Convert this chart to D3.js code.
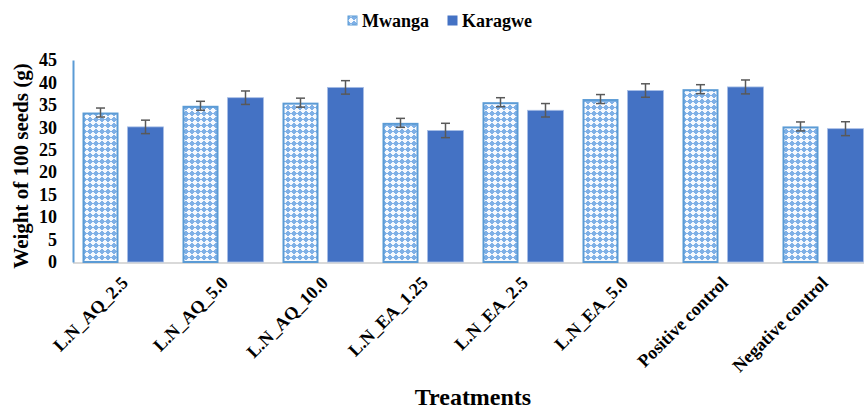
<!DOCTYPE html>
<html>
<head>
<meta charset="utf-8">
<script src="https://cdn.jsdelivr.net/npm/d3@7"></script>
<style>
html,body{margin:0;padding:0;background:#fff;}
svg{display:block;}
text{font-family:"Liberation Serif","Times New Roman",serif;font-weight:bold;fill:#000;}
</style>
</head>
<body>
<svg id="chart" width="864" height="410"></svg>
<script>
const categories = ["L.N_AQ_2.5","L.N_AQ_5.0","L.N_AQ_10.0","L.N_EA_1.25","L.N_EA_2.5","L.N_EA_5.0","Positive control","Negative control"];
const seriesNames = ["Mwanga","Karagwe"];
const mwanga = [33.3,34.8,35.5,31.0,35.6,36.3,38.5,30.2];
const mwangaErr = [1.0,1.0,1.0,1.0,1.0,1.0,1.0,1.0];
const karagwe = [30.1,36.6,38.9,29.3,33.8,38.2,39.0,29.7];
const karagweErr = [1.5,1.5,1.5,1.6,1.5,1.5,1.55,1.55];
const yTicks = [0,5,10,15,20,25,30,35,40,45];

const svg = d3.select("#chart");
const plotLeft = 73, plotRight = 873, plotTop = 60, plotBottom = 262;
const FONT = "'Liberation Serif','Times New Roman',serif";

const x = d3.scaleBand().domain(categories).range([plotLeft, plotRight]).paddingInner(0).paddingOuter(0);
const y = d3.scaleLinear().domain([0,45]).range([plotBottom, plotTop]);

const defs = svg.append("defs");
const pat = defs.append("pattern").attr("id","hatch").attr("patternUnits","userSpaceOnUse")
  .attr("width",6).attr("height",6);
pat.append("rect").attr("width",6).attr("height",6).attr("fill","#7fb0e6");
pat.append("rect").attr("x",2).attr("y",0).attr("width",2).attr("height",5).attr("fill","#f2f7fd");
pat.append("rect").attr("x",0).attr("y",2).attr("width",6).attr("height",1).attr("fill","#f2f7fd");
pat.append("rect").attr("x",1).attr("y",1).attr("width",4).attr("height",3).attr("fill","#f6f9fe");

const barW = 36, innerGap = 9;
const offs = [ (x.bandwidth() - (2*barW+innerGap))/2, (x.bandwidth() - (2*barW+innerGap))/2 + barW + innerGap ];

// bottom axis line
svg.append("line").attr("x1",plotLeft).attr("x2",plotRight).attr("y1",plotBottom+1).attr("y2",plotBottom+1)
  .attr("stroke","#d9d9d9").attr("stroke-width",2);

const data = [
  {name:"Mwanga", vals:mwanga, errs:mwangaErr},
  {name:"Karagwe", vals:karagwe, errs:karagweErr}
];

data.forEach((s,si)=>{
  const g = svg.append("g");
  g.selectAll("rect").data(categories).join("rect")
    .attr("x",(c)=>x(c)+offs[si] + (si===0?1:0))
    .attr("y",(c,i)=>y(s.vals[i]) + (si===0?1:0))
    .attr("width",barW - (si===0?2:0))
    .attr("height",(c,i)=>plotBottom - y(s.vals[i]) - (si===0?1:0))
    .attr("fill", si===0 ? "url(#hatch)" : "#4472c4")
    .attr("stroke", si===0 ? "#5b9bd5" : "#a9bfe6")
    .attr("stroke-width", si===0 ? 2 : 0.8);
  const eg = svg.append("g").attr("stroke","#595959").attr("stroke-width",1.5);
  categories.forEach((c,i)=>{
    const cx = x(c)+offs[si]+barW/2;
    const y1 = y(s.vals[i]+s.errs[i]), y2 = y(s.vals[i]-s.errs[i]);
    eg.append("line").attr("x1",cx).attr("x2",cx).attr("y1",y1).attr("y2",y2);
    eg.append("line").attr("x1",cx-4.5).attr("x2",cx+4.5).attr("y1",y1).attr("y2",y1);
    eg.append("line").attr("x1",cx-4.5).attr("x2",cx+4.5).attr("y1",y2).attr("y2",y2);
  });
});

// y axis
const yAxis = svg.append("g").attr("transform",`translate(${plotLeft},0)`)
  .call(d3.axisLeft(y).tickValues(yTicks).tickSize(0).tickPadding(16));
yAxis.select(".domain").attr("stroke","#5b9bd5").attr("stroke-width",2);
yAxis.selectAll("text").style("font-size","18px").style("font-family",FONT).style("font-weight","bold").attr("fill","#000");

// x labels
const xAxis = svg.append("g").attr("transform",`translate(0,${plotBottom})`)
  .call(d3.axisBottom(x).tickSize(0).tickPadding(0));
xAxis.select(".domain").remove();
xAxis.selectAll("text")
  .style("font-size","18px").style("font-family",FONT).style("font-weight","bold").attr("fill","#000")
  .attr("text-anchor","end")
  .attr("dy",null).attr("y",0)
  .attr("transform","translate(6,22) rotate(-45)");

// axis titles
svg.append("text").attr("x",(plotLeft+plotRight)/2).attr("y",405).attr("text-anchor","middle")
  .style("font-size","24px").style("font-family",FONT).text("Treatments");
svg.append("text").attr("transform","translate(28,166) rotate(-90)").attr("text-anchor","middle")
  .style("font-size","21px").style("font-family",FONT).text("Weight of 100 seeds (g)");

// legend
const lg = svg.append("g");
const legendItems = [{x:348, fill:"url(#hatch)", stroke:"#5b9bd5"},{x:448, fill:"#4472c4", stroke:"#4472c4"}];
legendItems.forEach((d,i)=>{
  lg.append("rect").attr("x",d.x).attr("y",16).attr("width",9).attr("height",9).attr("fill",d.fill).attr("stroke",d.stroke).attr("stroke-width",1);
  lg.append("text").attr("x",d.x+14).attr("y",27).style("font-size","18px").style("font-family",FONT).text(seriesNames[i]);
});
</script>
</body>
</html>
